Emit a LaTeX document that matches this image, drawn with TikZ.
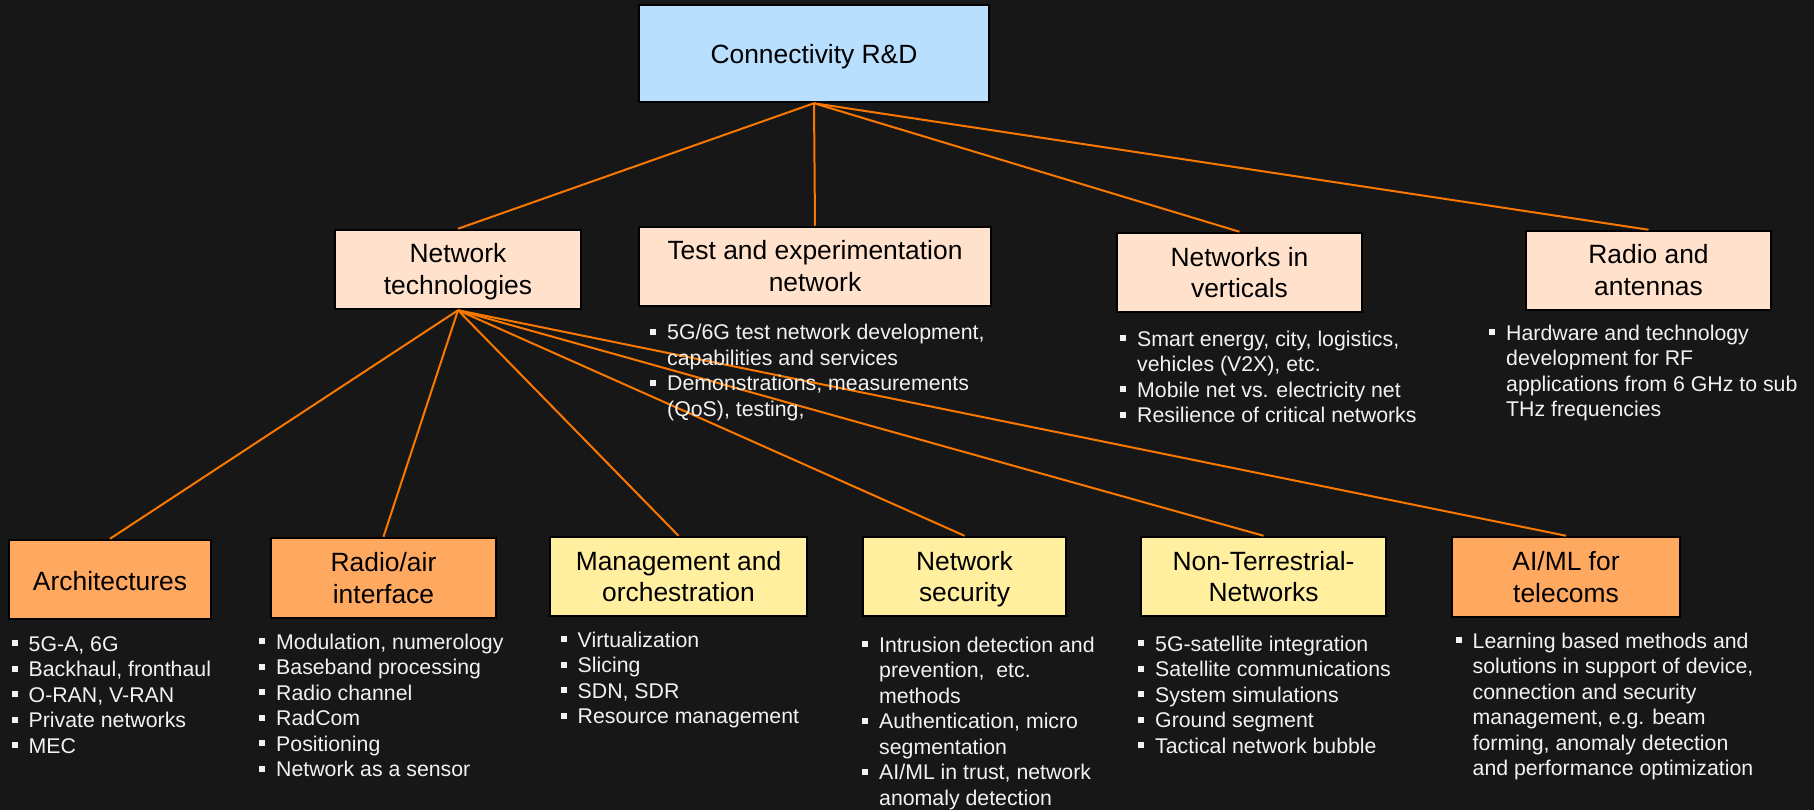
\documentclass[tikz,border=0pt]{standalone}
\usepackage{fontspec}
\setmainfont{Liberation Sans}
\definecolor{bgdark}{HTML}{171717}
\definecolor{rootblue}{HTML}{B8DFFE}
\definecolor{peach}{HTML}{FFE1CC}
\definecolor{orangefill}{HTML}{FFA860}
\definecolor{yellowfill}{HTML}{FFEF9F}
\definecolor{linkorange}{HTML}{FA7800}
\definecolor{bullettext}{HTML}{F2F2F2}
\newcommand\sq{\makebox[17pt][l]{\rule[5pt]{6pt}{6pt}}}
\newcommand\ind{\hspace*{17pt}}
\newcommand\ttltwo[2]{\rule{0pt}{24.7pt}#1\\#2\rule[-6pt]{0pt}{6pt}}
\newcommand\ttlone[1]{\raisebox{0pt}[0pt][0pt]{#1}\rule{0pt}{21pt}}
\tikzset{
  box/.style={draw=black, line width=2.5pt, inner sep=0pt, align=center, text=black,
    font=\fontsize{26.4}{31.7}\selectfont},
  bul/.style={anchor=north west, inner sep=0pt, align=left, text=bullettext,
    font=\fontsize{21.3}{25.5}\selectfont},
  link/.style={draw=linkorange, line width=2pt},
}
\begin{document}
\begin{tikzpicture}[x=1pt,y=-1pt]
\useasboundingbox (0,0) rectangle (1814,810);
\fill[bgdark] (0,0) rectangle (1814,810);

% level 1
\node[box, fill=rootblue, minimum width=350, minimum height=97] (root) at (814,53.5) {\ttlone{Connectivity R\&D}};

% level 2
\node[box, fill=peach, minimum width=246, minimum height=79] (nettech) at (458,269.5) {\ttltwo{Network}{technologies}};
\node[box, fill=peach, minimum width=352, minimum height=79] (test) at (815,266.5) {\ttltwo{Test and experimentation}{network}};
\node[box, fill=peach, minimum width=245, minimum height=79] (vert) at (1239.5,272.5) {\ttltwo{Networks in}{verticals}};
\node[box, fill=peach, minimum width=245, minimum height=79] (radio) at (1648.5,270.5) {\ttltwo{Radio and}{antennas}};

% level 3
\node[box, fill=orangefill, minimum width=202, minimum height=79] (arch) at (110,579.5) {\ttlone{Architectures}};
\node[box, fill=orangefill, minimum width=225, minimum height=80] (rair) at (383.5,578) {\ttltwo{Radio/air}{interface}};
\node[box, fill=yellowfill, minimum width=257, minimum height=79] (mgmt) at (678.5,576.5) {\ttltwo{Management and}{orchestration}};
\node[box, fill=yellowfill, minimum width=203, minimum height=79] (nsec) at (964.5,576.5) {\ttltwo{Network}{security}};
\node[box, fill=yellowfill, minimum width=245, minimum height=79] (ntn) at (1263.5,576.5) {\ttltwo{Non-Terrestrial-}{Networks}};
\node[box, fill=orangefill, minimum width=228, minimum height=80] (aiml) at (1566,577) {\ttltwo{AI/ML for}{telecoms}};

% connectors
\foreach \t in {nettech,test,vert,radio}
  \draw[link] (root.south) -- (\t.north);
\foreach \t in {arch,rair,mgmt,nsec,ntn,aiml}
  \draw[link] (nettech.south) -- (\t.north);

% bullet lists
\node[bul] (testb) at (650,321.6) {\strut\sq 5G/6G test network development,\\
  \ind capabilities and services\\
  \sq Demonstrations, measurements\\
  \ind (QoS), testing,};
\node[bul] (vertb) at (1120,328) {\strut\sq Smart energy, city, logistics,\\
  \ind vehicles (V2X), etc.\\
  \sq Mobile net vs. electricity net\\
  \sq Resilience of critical networks};
\node[bul] (radiob) at (1489,322) {\strut\sq Hardware and technology\\
  \ind development for RF\\
  \ind applications from 6 GHz to sub\\
  \ind THz frequencies};
\node[bul] (archb) at (11.5,633) {\strut\sq 5G-A, 6G\\
  \sq Backhaul, fronthaul\\
  \sq O-RAN, V-RAN\\
  \sq Private networks\\
  \sq MEC};
\node[bul] (rairb) at (259,631) {\strut\sq Modulation, numerology\\
  \sq Baseband processing\\
  \sq Radio channel\\
  \sq RadCom\\
  \sq Positioning\\
  \sq Network as a sensor};
\node[bul] (mgmtb) at (560.5,629) {\strut\sq Virtualization\\
  \sq Slicing\\
  \sq SDN, SDR\\
  \sq Resource management};
\node[bul] (nsecb) at (862,634) {\strut\sq Intrusion detection and\\
  \ind prevention,\ \ etc.\\
  \ind methods\\
  \sq Authentication, micro\\
  \ind segmentation\\
  \sq AI/ML in trust, network\\
  \ind anomaly detection};
\node[bul] (ntnb) at (1138,633) {\strut\sq 5G-satellite integration\\
  \sq Satellite communications\\
  \sq System simulations\\
  \sq Ground segment\\
  \sq Tactical network bubble};
\node[bul] (aimlb) at (1455.5,630) {\strut\sq Learning based methods and\\
  \ind solutions in support of device,\\
  \ind connection and security\\
  \ind management, e.g. beam\\
  \ind forming, anomaly detection\\
  \ind and performance optimization};
\end{tikzpicture}
\end{document}
